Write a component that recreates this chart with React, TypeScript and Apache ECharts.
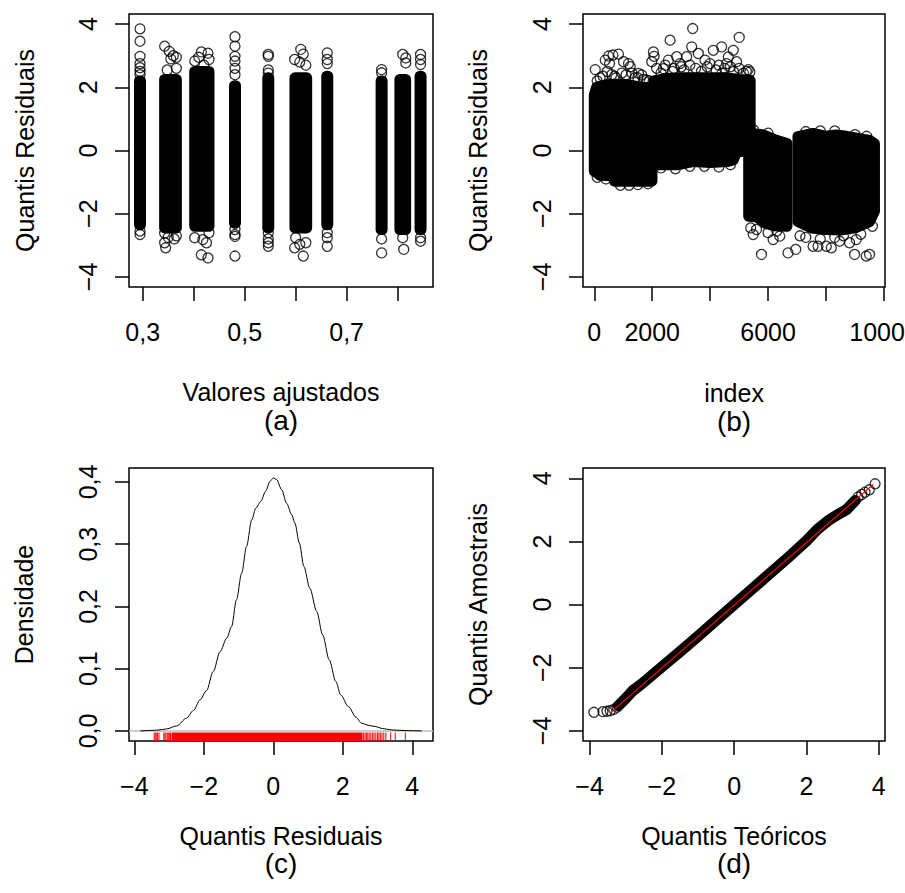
import React, { useEffect, useRef } from "react";
import * as echarts from "echarts";

const FONT = "'Liberation Sans', Arial, Helvetica, sans-serif";
const FS = 25;

// ---------- Panel (a): residuals vs fitted values ----------
const stripLeftA = [0.2947, 0.343, 0.402, 0.481, 0.5463, 0.5986, 0.662, 0.7686, 0.8045, 0.845];
const stripRightA = [0.2947, 0.366, 0.43, 0.481, 0.5463, 0.6216, 0.662, 0.7686, 0.8157, 0.845];
const stripLowA = [-2.35, -2.45, -2.4, -2.3, -2.45, -2.45, -2.35, -2.5, -2.5, -2.5];
const stripHighA = [2.2, 2.25, 2.5, 2.05, 2.3, 2.3, 2.35, 2.2, 2.25, 2.35];
const outliersA: number[][] = [
  [0.2947, 3.85], [0.2947, 3.46], [0.2947, 2.98], [0.2947, 2.75], [0.2947, 2.62], [0.2947, 2.5], [0.2947, 2.4], [0.2947, -2.55], [0.2947, -2.66],
  [0.343, 3.3], [0.352, 3.14], [0.36, 3.0], [0.355, 2.9], [0.366, 2.95], [0.366, 2.6], [0.348, 2.55], [0.343, -2.62], [0.35, -2.75], [0.343, -2.92], [0.345, -3.08], [0.362, -2.8], [0.366, -2.7],
  [0.402, 2.83], [0.415, 3.12], [0.428, 3.08], [0.41, 2.95], [0.43, 2.88], [0.42, 2.7], [0.402, -2.76], [0.418, -2.82], [0.425, -2.92], [0.415, -3.3], [0.428, -3.4], [0.43, -2.6],
  [0.481, 3.6], [0.481, 3.3], [0.481, 2.98], [0.481, 2.83], [0.481, 2.6], [0.481, 2.4], [0.481, -2.5], [0.481, -2.66], [0.481, -2.72], [0.481, -3.34],
  [0.5463, 3.04], [0.5463, 2.98], [0.5463, 2.55], [0.5463, 2.45], [0.5463, -2.6], [0.5463, -2.8], [0.5463, -2.92], [0.5463, -3.03],
  [0.61, 3.2], [0.615, 3.05], [0.598, 2.88], [0.608, 2.8], [0.62, 2.7], [0.6, -2.76], [0.608, -2.97], [0.598, -3.08], [0.615, -3.34], [0.62, -2.92],
  [0.662, 3.09], [0.662, 2.88], [0.662, 2.75], [0.662, -2.6], [0.662, -2.76], [0.662, -3.03],
  [0.7686, 2.56], [0.7686, 2.46], [0.7686, -2.8], [0.7686, -3.24],
  [0.81, 3.04], [0.816, 2.93], [0.816, 2.77], [0.81, -2.76], [0.812, -3.13],
  [0.845, 3.04], [0.845, 2.88], [0.845, 2.72], [0.845, -2.76], [0.845, -2.87],
];

// ---------- Panel (b): residuals vs index ----------
const blockB1 = [[0, 1.75], [80, 2.0], [400, 2.08], [800, 2.1], [1200, 2.08], [1600, 2.0], [1990, 1.98], [1990, -0.97], [700, -0.97], [660, -0.8], [200, -0.78], [0, -0.65]];
const blockB2 = [[2060, 2.2], [2500, 2.28], [3000, 2.3], [3500, 2.3], [4000, 2.3], [4500, 2.3], [5000, 2.25], [5380, 2.22], [5380, 0.0], [4900, -0.05], [4800, -0.3], [4600, -0.35], [4000, -0.38], [3400, -0.35], [2900, -0.45], [2060, -0.45]];
const blockB3 = [[5330, 0.55], [5800, 0.5], [6200, 0.35], [6650, 0.22], [6650, -2.4], [6200, -2.38], [5900, -2.3], [5600, -2.1], [5330, -2.08]];
const blockB4 = [[7030, 0.44], [7550, 0.54], [8000, 0.45], [8350, 0.49], [8700, 0.45], [9100, 0.38], [9500, 0.32], [9670, 0.22], [9670, -1.92], [9500, -2.25], [9000, -2.45], [8500, -2.52], [8000, -2.5], [7500, -2.45], [7030, -2.25]];
const blocksB = [blockB1, blockB2, blockB3, blockB4];
const outliersB: number[][] = [
  [34, 2.56], [379, 2.86], [494, 2.99], [643, 3.02], [837, 3.05], [528, 2.75], [1010, 2.81], [1182, 2.75], [1239, 2.65], [1525, 2.44], [1640, 2.39], [1812, 2.23],
  [200, 2.3], [700, 2.35], [1400, 2.3],
  [100, 2.2], [300, 2.35], [450, 2.5], [600, 2.4], [750, 2.3], [950, 2.45], [1100, 2.4], [1300, 2.45], [1500, 2.3], [1700, 2.25], [1900, 2.2],
  [2041, 3.12], [2064, 2.98], [1985, 2.81], [2616, 3.49], [2559, 2.86], [2845, 2.97], [2960, 2.75], [3189, 2.97], [3397, 3.86], [3362, 3.28], [3591, 3.07], [3820, 2.86],
  [4109, 3.17], [4396, 3.28], [4625, 2.96], [4797, 3.17], [5003, 3.58], [4912, 2.81], [4568, 2.75], [5314, 2.56], [5371, 2.49], [2386, 2.59], [3992, 2.75],
  [2300, 2.45], [2700, 2.5], [3100, 2.55], [3700, 2.5], [4200, 2.55], [4400, 2.45], [4800, 2.5], [5150, 2.45],
  [2150, 2.6], [2450, 2.7], [2750, 2.6], [3000, 2.65], [3300, 2.7], [3500, 2.6], [3900, 2.65], [4300, 2.7], [4500, 2.6], [4700, 2.65], [5000, 2.6], [5250, 2.5],
  [5500, 0.65], [6000, 0.55], [7300, 0.6], [7800, 0.62], [8300, 0.62], [9000, 0.5], [9400, 0.45],
  [100, -0.85], [400, -0.9], [900, -1.1], [1200, -1.1], [1500, -1.08], [1850, -1.05], [2300, -0.55], [2800, -0.58], [3300, -0.5], [3800, -0.5], [4300, -0.52], [4700, -0.45],
  [5484, -2.66], [5771, -3.29], [6172, -2.82], [6402, -2.71], [6688, -3.24], [6953, -3.13], [7550, -3.03], [7722, -3.03], [8009, -3.03], [8181, -3.08], [8468, -2.87],
  [8812, -2.92], [8984, -3.29], [9042, -2.82], [9386, -3.34], [9500, -3.29],
  [5400, -2.45], [5600, -2.5], [6000, -2.6], [6300, -2.55], [7100, -2.7], [7300, -2.75], [7800, -2.8], [8300, -2.75], [8600, -2.7], [9200, -2.65], [9600, -2.4],
];

// ---------- Panel (c): density of residual quantiles ----------
const densX = [-3.83, -3.36, -3.07, -2.78, -2.5, -2.3, -2.11, -1.92, -1.73, -1.53, -1.34, -1.2, -1.06, -0.91, -0.77, -0.62, -0.5, -0.36, -0.22, -0.096, 0, 0.096, 0.24, 0.38, 0.53, 0.62, 0.75, 0.88, 1.05, 1.25, 1.42, 1.61, 1.8, 1.94, 2.16, 2.38, 2.54, 2.74, 2.93, 3.15, 3.41, 3.84, 4.27];
const densY = [0.0, 0.0011, 0.0032, 0.008, 0.0204, 0.0327, 0.0498, 0.0649, 0.0953, 0.1275, 0.149, 0.1678, 0.2107, 0.2536, 0.2965, 0.3394, 0.3582, 0.3689, 0.385, 0.4011, 0.4064, 0.4038, 0.3877, 0.3662, 0.3474, 0.334, 0.3018, 0.2643, 0.2294, 0.1919, 0.1543, 0.1141, 0.0793, 0.0579, 0.0391, 0.022, 0.0123, 0.0091, 0.007, 0.0038, 0.0016, 0.0005, 0.0];
const rugCore = [-2.93, 2.57];
const rugTail = [-3.43, -3.4, -3.37, -3.33, -3.29, -3.15, -3.12, -3.09, -3.05, -3.01, -2.98, -2.96, 2.6, 2.64, 2.68, 2.72, 2.76, 2.81, 2.86, 2.9, 2.95, 3.0, 3.04, 3.08, 3.13, 3.18, 3.24, 3.38, 3.51, 3.8];

// ---------- Panel (d): normal QQ plot ----------
const qqBandX = [-3.2, -3.0, -2.8, -2.6, -2.4, -2.0, -1.5, -1.0, -0.5, 0, 0.5, 1.0, 1.5, 2.0, 2.3, 2.6, 2.9, 3.1, 3.35];
const qqBandY = [-3.2, -2.97, -2.72, -2.55, -2.36, -1.97, -1.49, -1.0, -0.5, 0.0, 0.5, 1.0, 1.5, 2.02, 2.38, 2.66, 2.88, 3.0, 3.3];
const qqTailX = [-3.88, -3.63, -3.52, -3.43, -3.33, -3.24, 3.43, 3.53, 3.62, 3.74, 3.9];
const qqTailY = [-3.41, -3.39, -3.38, -3.36, -3.32, -3.25, 3.41, 3.49, 3.56, 3.64, 3.83];
const qqLineX = [-3.43, 3.85];
const qqLineY = [-3.43, 3.81];

// ---------- ticks ----------
const ticksA_x = [0.3, 0.4, 0.5, 0.6, 0.7, 0.8];
const labelsA_x = [0.3, 0.5, 0.7];
const ticksB_x = [0, 2000, 4000, 6000, 8000, 10000];
const labelsB_x = [0, 2000, 6000, 10000];
const ticksRes = [-4, -2, 0, 2, 4];
const ticksDens = [0, 0.1, 0.2, 0.3, 0.4];

function fmt(v: number, digits?: number) {
  const s = digits != null ? Number(v).toFixed(digits) : String(v);
  return s.replace(".", ",").replace("-", "\u2212");
}

function xAx(grid: number, min: number, max: number, ticks: number[], labels: number[], name: string, gap: number, digits?: number) {
  return {
    type: "value", gridIndex: grid, min, max, name, nameLocation: "middle", nameGap: gap,
    nameTextStyle: { fontSize: FS, fontFamily: FONT, color: "#000" },
    axisLine: { show: false, onZero: false }, splitLine: { show: false },
    axisTick: { show: true, inside: false, length: 14, lineStyle: { color: "#000", width: 1.5 }, customValues: ticks },
    axisLabel: {
      show: true, customValues: labels, margin: 32, fontSize: FS, fontFamily: FONT, color: "#000",
      alignMinLabel: "center", alignMaxLabel: "center", hideOverlap: false,
      formatter: (v: number) => fmt(v, digits),
    },
  };
}
function yAx(grid: number, min: number, max: number, ticks: number[], name: string, gap: number, digits?: number) {
  return {
    type: "value", gridIndex: grid, min, max, name, nameLocation: "middle", nameGap: gap, nameRotate: 90,
    nameTextStyle: { fontSize: FS, fontFamily: FONT, color: "#000" },
    axisLine: { show: false, onZero: false }, splitLine: { show: false },
    axisTick: { show: true, inside: false, length: 14, lineStyle: { color: "#000", width: 1.5 }, customValues: ticks },
    axisLabel: {
      show: true, customValues: ticks, rotate: 90, margin: 29, fontSize: FS, fontFamily: FONT, color: "#000",
      alignMinLabel: "center", alignMaxLabel: "center", hideOverlap: false,
      formatter: (v: number) => fmt(v, digits),
    },
  };
}

const circleStyle = { color: "rgba(0,0,0,0)", borderColor: "#000", borderWidth: 1.3 };
const gridBase = { show: true, borderColor: "#000", borderWidth: 1.5, backgroundColor: "transparent", containLabel: false, outerBoundsMode: "none" };

function letter(text: string, x: number, y: number) {
  return {
    type: "text", x, y,
    style: { text, fontSize: 28, fontFamily: FONT, fill: "#000", align: "center", verticalAlign: "middle", textAlign: "center", textVerticalAlign: "middle" },
  };
}

export default function App() {
  const ref = useRef<HTMLDivElement>(null);
  useEffect(() => {
    if (!ref.current) return;
    const chart = echarts.init(ref.current, undefined, { renderer: "svg" });
    const option: any = {
      animation: false,
      backgroundColor: "#fff",
      grid: [
        { ...gridBase, left: 129, top: 14, width: 304, height: 273 },
        { ...gridBase, left: 583, top: 14, width: 302, height: 273 },
        { ...gridBase, left: 129, top: 468, width: 304, height: 273 },
        { ...gridBase, left: 583, top: 468, width: 302, height: 273 },
      ],
      xAxis: [
        xAx(0, 0.2731, 0.8694, ticksA_x, labelsA_x, "Valores ajustados", 92),
        xAx(1, -389, 10034, ticksB_x, labelsB_x, "index", 93),
        xAx(2, -4.153, 4.596, ticksRes, ticksRes, "Quantis Residuais", 82),
        xAx(3, -4.182, 4.174, ticksRes, ticksRes, "Quantis Te\u00f3ricos", 82),
      ],
      yAxis: [
        yAx(0, -4.32, 4.32, ticksRes, "Quantis Residuais", 92),
        yAx(1, -4.32, 4.32, ticksRes, "Quantis Residuais", 93),
        yAx(2, -0.0162, 0.4224, ticksDens, "Densidade", 93, 1),
        yAx(3, -4.32, 4.33, ticksRes, "Quantis Amostrais", 93),
      ],
      graphic: [letter("(a)", 281, 420), letter("(b)", 734, 421), letter("(c)", 281, 863), letter("(d)", 734, 863)],
      series: [
        {
          type: "custom", xAxisIndex: 0, yAxisIndex: 0, clip: true,
          data: stripLeftA.map((_, i) => [i]),
          renderItem: (_p: any, api: any) => {
            const i = api.value(0);
            const tl = api.coord([stripLeftA[i], stripHighA[i]]);
            const br = api.coord([stripRightA[i], stripLowA[i]]);
            const l = Math.min(tl[0], br[0] - 0.5), r = Math.max(br[0], tl[0] + 0.5);
            return {
              type: "polygon",
              shape: { points: [[l, tl[1]], [r, tl[1]], [r, br[1]], [l, br[1]]] },
              style: { fill: "#000", stroke: "#000", lineWidth: 11, lineJoin: "round" },
            };
          },
        },
        { type: "scatter", xAxisIndex: 0, yAxisIndex: 0, data: outliersA, symbol: "circle", symbolSize: 10, itemStyle: circleStyle },
        {
          type: "custom", xAxisIndex: 1, yAxisIndex: 1, clip: true,
          data: blocksB.map((_, i) => [i]),
          renderItem: (_p: any, api: any) => {
            const blk = blocksB[api.value(0)];
            return {
              type: "polygon",
              shape: { points: blk.map((p) => api.coord(p)) },
              style: { fill: "#000", stroke: "#000", lineWidth: 11, lineJoin: "round" },
            };
          },
        },
        { type: "scatter", xAxisIndex: 1, yAxisIndex: 1, data: outliersB, symbol: "circle", symbolSize: 10, itemStyle: circleStyle },
        {
          type: "line", xAxisIndex: 2, yAxisIndex: 2, data: [[-4.153, 0], [4.596, 0]], symbol: "none",
          lineStyle: { color: "#BEBEBE", width: 1.5 }, z: 1,
        },
        {
          type: "line", xAxisIndex: 2, yAxisIndex: 2, data: densX.map((x, i) => [x, densY[i]]), symbol: "none",
          smooth: 0.3, smoothMonotone: "x", lineStyle: { color: "#000", width: 1 }, z: 3,
        },
        {
          type: "custom", xAxisIndex: 2, yAxisIndex: 2, clip: true, z: 4,
          data: rugTail.map((x) => [x]),
          renderItem: (_p: any, api: any) => {
            const p = api.coord([api.value(0), -0.0162]);
            return { type: "line", shape: { x1: p[0], y1: p[1], x2: p[0], y2: p[1] - 8.5 }, style: { stroke: "#FF0000", lineWidth: 1 } };
          },
        },
        {
          type: "custom", xAxisIndex: 2, yAxisIndex: 2, clip: true, z: 4,
          data: [[rugCore[0], rugCore[1]]],
          renderItem: (_p: any, api: any) => {
            const a = api.coord([api.value(0), -0.0162]);
            const b = api.coord([api.value(1), -0.0162]);
            return { type: "rect", shape: { x: a[0], y: a[1] - 8.5, width: b[0] - a[0], height: 8.5 }, style: { fill: "#FF0000" } };
          },
        },
        {
          type: "line", xAxisIndex: 3, yAxisIndex: 3, data: qqBandX.map((x, i) => [x, qqBandY[i]]), symbol: "none",
          lineStyle: { color: "#000", width: 11, cap: "round", join: "round" }, z: 2,
        },
        { type: "scatter", xAxisIndex: 3, yAxisIndex: 3, data: qqTailX.map((x, i) => [x, qqTailY[i]]), symbol: "circle", symbolSize: 10, itemStyle: circleStyle, z: 3 },
        {
          type: "line", xAxisIndex: 3, yAxisIndex: 3, data: qqLineX.map((x, i) => [x, qqLineY[i]]), symbol: "none",
          lineStyle: { color: "#FF0000", width: 1.2 }, z: 5,
        },
      ],
    };
    chart.setOption(option);
    return () => chart.dispose();
  }, []);
  return <div ref={ref} style={{ position: "absolute", left: 0, top: 0, width: 905, height: 893, background: "#fff" }} />;
}
